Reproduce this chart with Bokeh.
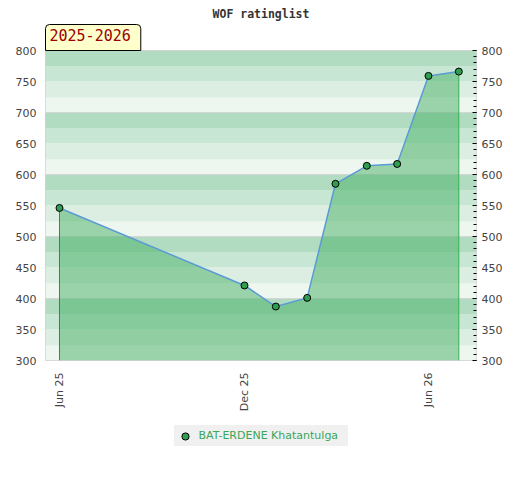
import math
import pandas as pd
from bokeh.plotting import figure
from bokeh.layouts import column
from bokeh.models import (Range1d, LinearAxis, FixedTicker, DatetimeTickFormatter,
                          Title, Legend, LegendItem)
from bokeh.embed import file_html
from bokeh.resources import INLINE

# ---------------- data ----------------
title_text = "WOF ratinglist"
season_text = "2025-2026"
player_name = "BAT-ERDENE Khatantulga"

rating_dates = ["2025-06-01", "2025-12-01", "2026-01-01", "2026-02-01", "2026-03-01",
                "2026-04-01", "2026-05-01", "2026-06-01", "2026-07-01"]
ratings = [546, 421, 387, 401, 585, 614, 617, 759, 766]

x_tick_dates = ["2025-06-01", "2025-12-01", "2026-06-01"]
y_ticks = [300, 350, 400, 450, 500, 550, 600, 650, 700, 750, 800]
y_minor_ticks = list(range(300, 801, 10))
grid_values = [300, 400, 500, 600, 700, 800]
band_bottoms = list(range(300, 800, 25))
band_palette = ["#eef6f0", "#dceee2", "#c8e6d4", "#b2dcc2"]

# ---------------- derived ----------------
xd = [pd.Timestamp(d) for d in rating_dates]
Y_MIN, Y_MAX = 300, 800
X_START = pd.Timestamp("2025-05-18 04:00")
X_END = pd.Timestamp("2026-07-18 12:00")
band_tops = [b + 25 for b in band_bottoms]
band_colors = [band_palette[(b % 100) // 25] for b in band_bottoms]
x_tick_ms = [pd.Timestamp(d).timestamp() * 1000 for d in x_tick_dates]

MARKER_FILL = "#2e9e4f"

p = figure(frame_width=431, frame_height=310, x_axis_type="datetime",
           x_range=Range1d(X_START, X_END), y_range=Range1d(Y_MIN, Y_MAX),
           min_border_left=45, min_border_right=44, min_border_top=50, min_border_bottom=60,
           output_backend="svg", toolbar_location=None, title=None)
p.xgrid.visible = False
p.ygrid.visible = False
p.outline_line_color = "#d3d3d3"
p.outline_line_width = 1
p.background_fill_color = "white"
p.border_fill_color = "white"

# background bands and grid
p.hstrip(y0=band_bottoms, y1=band_tops, fill_color=band_colors, line_color=None)
p.hspan(y=grid_values, line_color="#d6d6d6", line_width=1)

# area + edges + line + markers
p.varea(x=xd, y1=[Y_MIN] * len(xd), y2=ratings, fill_color="#3fad5e", fill_alpha=0.48)
p.segment(x0=[xd[0]], y0=[Y_MIN], x1=[xd[0]], y1=[ratings[0]], line_color="#2e8b47", line_width=1)
p.segment(x0=[xd[-1]], y0=[Y_MIN], x1=[xd[-1]], y1=[ratings[-1]], line_color="#33b34f", line_width=1)
p.line(xd, ratings, line_color="#5b9bd5", line_width=1.5)
sc = p.scatter(xd, ratings, size=7, fill_color=MARKER_FILL, line_color="black", line_width=1)

# left axis
ya = p.yaxis[0]
ya.ticker = FixedTicker(ticks=y_ticks)
ya.major_tick_line_color = None
ya.minor_tick_line_color = None
ya.major_tick_out = 0
ya.major_tick_in = 0
ya.minor_tick_out = 0
ya.minor_tick_in = 0
ya.axis_line_color = None
ya.major_label_standoff = 9
ya.major_label_text_font = "DejaVu Sans"
ya.major_label_text_font_size = "11px"
ya.major_label_text_color = "#444444"

# right axis
ra = LinearAxis(ticker=FixedTicker(ticks=y_ticks, minor_ticks=y_minor_ticks),
                major_tick_in=4, major_tick_out=0, minor_tick_in=3, minor_tick_out=0,
                major_tick_line_color="black", minor_tick_line_color="black",
                axis_line_color=None, major_label_standoff=5,
                major_label_text_font="DejaVu Sans", major_label_text_font_size="11px",
                major_label_text_color="#444444")
p.add_layout(ra, "right")

# x axis
xa = p.xaxis[0]
xa.ticker = FixedTicker(ticks=x_tick_ms)
fmt = "%b %y"
xa.formatter = DatetimeTickFormatter(days=fmt, months=fmt, years=fmt, hours=fmt,
                                     hourmin=fmt, minutes=fmt)
xa.major_label_orientation = math.pi / 2
xa.major_tick_line_color = None
xa.minor_tick_line_color = None
xa.major_tick_out = 0
xa.major_tick_in = 0
xa.minor_tick_out = 0
xa.minor_tick_in = 0
xa.axis_line_color = None
xa.major_label_standoff = 12
xa.major_label_text_font = "DejaVu Sans"
xa.major_label_text_font_size = "11px"
xa.major_label_text_color = "#444444"

# season box (nearest the frame), then main title
season = Title(text=season_text, align="left", offset=0, standoff=0,
               text_font="DejaVu Sans Mono", text_font_size="15px", text_font_style="normal",
               text_color="#990000", background_fill_color="#ffffcc",
               border_line_color="black", border_line_width=1,
               padding=(4, 10, 4, 10), border_radius=(4, 4, 0, 0))
p.add_layout(season, "above")
main_title = Title(text=title_text, align="center", standoff=4,
                   text_font="DejaVu Sans Mono", text_font_style="bold",
                   text_font_size="11.5px", text_color="#333333")
p.add_layout(main_title, "above")

# legend strip below the chart
lf = figure(width=520, height=60, x_range=Range1d(0, 1), y_range=Range1d(0, 1),
            min_border=0, toolbar_location=None, output_backend="svg",
            x_axis_location=None, y_axis_location=None, title=None)
lf.outline_line_color = None
lf.grid.visible = False
lf.background_fill_color = "white"
lf.border_fill_color = "white"
legend_marker = lf.scatter(x=[-1], y=[-1], size=7, fill_color=MARKER_FILL,
                           line_color="black", line_width=1)
legend = Legend(items=[LegendItem(label=player_name, renderers=[legend_marker])],
                location="top_center", orientation="horizontal",
                background_fill_color="#f0f0f0", background_fill_alpha=1,
                border_line_color=None, padding=0, glyph_width=22, glyph_height=18,
                label_height=21, label_width=149, label_standoff=3, margin=5,
                label_text_font="DejaVu Sans", label_text_font_size="11px",
                label_text_color="#3aa65a", label_text_baseline="middle")
lf.add_layout(legend)

layout = column(p, lf, spacing=0)
open("out.html", "w").write(file_html(layout, INLINE))
